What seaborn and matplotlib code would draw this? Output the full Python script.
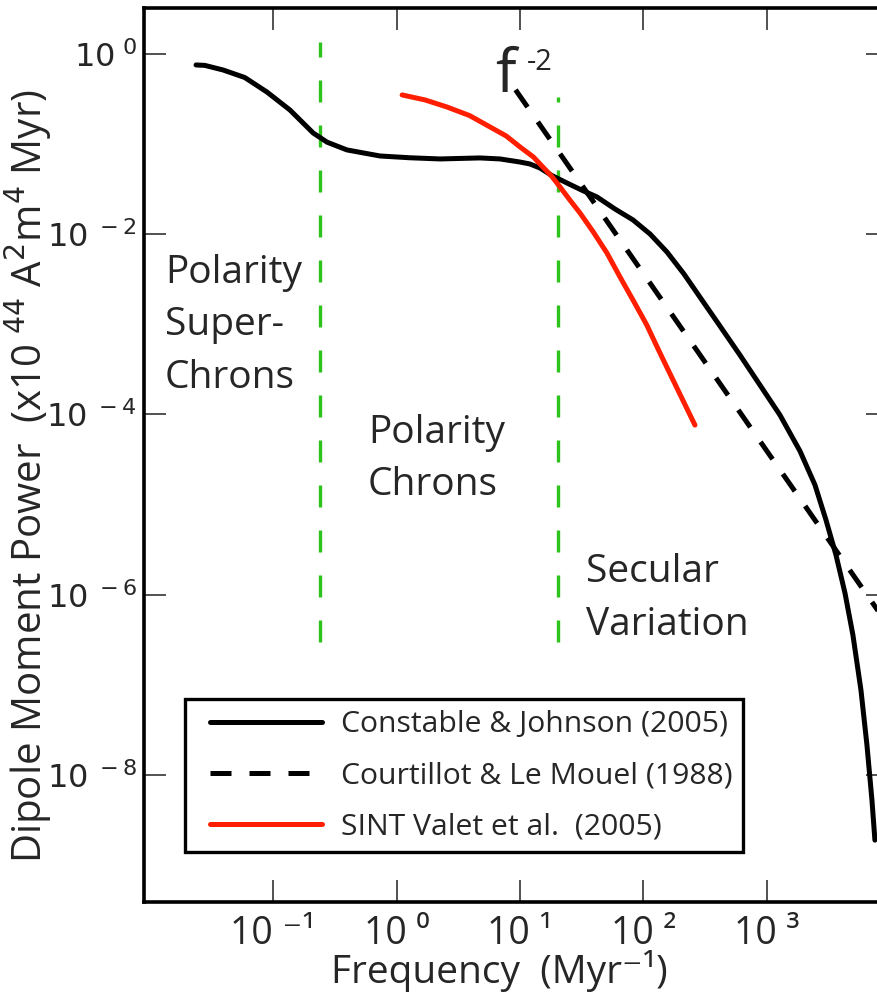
import matplotlib
matplotlib.use("Agg")
import matplotlib.pyplot as plt
import seaborn as sns
import pandas as pd
from matplotlib.lines import Line2D
from matplotlib.legend_handler import HandlerLine2D

# ---------------- data ----------------
cj_freq = [0.0238, 0.0280, 0.0394, 0.0590, 0.0893, 0.137, 0.211, 0.274, 0.397, 0.735,
           1.28, 2.25, 4.74, 6.89, 10.0, 12.0, 14.5, 18.1, 24.0, 31.5, 42.0, 58.9,
           82.2, 113, 155, 213, 286, 416, 604, 877, 1274, 1849, 2447, 3006, 3622,
           4284, 4966, 5768, 6450, 7080, 7482]
cj_power = [0.755, 0.747, 0.664, 0.548, 0.378, 0.239, 0.133, 0.105, 0.0861, 0.0738,
            0.0705, 0.0684, 0.0702, 0.0684, 0.0632, 0.0602, 0.0543, 0.0448, 0.0370,
            0.0309, 0.0259, 0.0190, 0.0144, 1.005e-2, 6.34e-3, 3.61e-3, 2.01e-3,
            9.58e-4, 4.56e-4, 2.12e-4, 9.84e-5, 3.93e-5, 1.65e-5, 6.73e-6, 2.75e-6,
            1.04e-6, 3.56e-7, 8.73e-8, 2.14e-8, 5.25e-9, 1.89e-9]

cl_freq = [9.2, 10000.0]
cl_power = [0.40, 4.2e-7]

sv_freq = [1.11, 1.70, 2.56, 3.91, 5.71, 7.73, 10.0, 12.8, 15.3, 18.0, 21.1, 25.3,
           30.6, 39.0, 50.6, 64.0, 82.2, 106, 136, 187, 261]
sv_power = [0.351, 0.309, 0.258, 0.207, 0.155, 0.123, 0.0929, 0.0722, 0.0557, 0.0441,
            0.0334, 0.0240, 0.0172, 0.0107, 6.18e-3, 3.42e-3, 1.86e-3, 9.9e-4,
            4.80e-4, 1.95e-4, 7.62e-5]

boundary_freq = [0.24, 20.3]
boundary_top = [1.36, 0.333]
boundary_bottom = [3.0e-7, 3.0e-7]

series_labels = ["Constable & Johnson (2005)", "Courtillot & Le Mouel (1988)",
                 "SINT Valet et al.  (2005)"]
region_labels = ["Polarity\nSuper-\nChrons", "Polarity\nChrons", "Secular\nVariation"]

x_ticks = [1e-1, 1e0, 1e1, 1e2, 1e3]
x_tick_labels = ["10 \u207b\u00b9", "10 \u2070", "10 \u00b9", "10 \u00b2", "10 \u00b3"]
y_ticks = [1e0, 1e-2, 1e-4, 1e-6, 1e-8]
y_tick_labels = [r"$\mathregular{10^{\ 0}}$", r"$\mathregular{10^{\ -2}}$",
                 r"$\mathregular{10^{\ -4}}$", r"$\mathregular{10^{\ -6}}$",
                 r"$\mathregular{10^{\ -8}}$"]

# ---------------- style ----------------
sns.set_style("white")
plt.rcParams["font.family"] = ["Open Sans", "DejaVu Sans"]
NARROW = ["Liberation Sans Narrow", "Open Sans", "DejaVu Sans"]

W, H = 878, 998
fig = plt.figure(figsize=(W / 100, H / 100), dpi=100)
L, R, T, B = 144, 888, 8, 902
ax = fig.add_axes([L / W, 1 - B / H, (R - L) / W, (B - T) / H])
ax.set_xscale("log")
ax.set_yscale("log")

LW = 3.6
RED = "#ff1e00"
cj = pd.DataFrame({"f": cj_freq, "p": cj_power})
cl = pd.DataFrame({"f": cl_freq, "p": cl_power})
sv = pd.DataFrame({"f": sv_freq, "p": sv_power})

green = "#2ec21c"
for f, top, bot in zip(boundary_freq, boundary_top, boundary_bottom):
    # drawn bottom -> top so the dash pattern starts at the lower end
    ax.plot([f, f], [bot, top], color=green, lw=2.4, linestyle=(0, (6.6, 6.9)), zorder=1)

sns.lineplot(data=cl, x="f", y="p", ax=ax, color="black", lw=LW, estimator=None,
             sort=False, linestyle=(0, (4.2, 3.6)), zorder=2)
sns.lineplot(data=cj, x="f", y="p", ax=ax, color="black", lw=LW, estimator=None,
             sort=False, zorder=3, solid_capstyle="round", solid_joinstyle="round")
sns.lineplot(data=sv, x="f", y="p", ax=ax, color=RED, lw=LW, estimator=None,
             sort=False, zorder=4, solid_capstyle="round", solid_joinstyle="round")

ax.set_xlim(10 ** -2.045, 10 ** 3.98)
ax.set_ylim(10 ** -9.41, 10 ** 0.51)

ax.set_xticks(x_ticks)
ax.set_xticklabels(x_tick_labels, family=NARROW, fontsize=27)
ax.set_yticks(y_ticks)
ax.set_yticklabels(y_tick_labels, family=["DejaVu Sans"], fontsize=23)
ax.minorticks_off()
ax.tick_params(axis="both", which="major", direction="in", length=16, width=1.1,
               color="#222222", top=True, right=True, bottom=True, left=True)
ax.tick_params(axis="x", pad=9)
ax.tick_params(axis="y", pad=5)

for s in ax.spines.values():
    s.set_linewidth(2.6)
    s.set_color("black")
    s.set_visible(True)

ax.set_xlabel("Frequency  (Myr\u207b\u00b9)", family=NARROW, fontsize=28)
ax.xaxis.set_label_coords(0.478, -0.054)
ax.xaxis.label.set_verticalalignment("top")
ax.set_ylabel(r"Dipole Moment Power  (x10$^{\ 44}$ A$^{2}$m$^{4}$ Myr)", family=NARROW,
              fontsize=29)
ax.yaxis.set_label_coords(-0.121, 0.476)

# region annotations (y = baseline of last line)
ax.text(0.028, 0.575, region_labels[0], transform=ax.transAxes, fontsize=28,
        va="baseline", ha="left", linespacing=1.5)
ax.text(0.301, 0.455, region_labels[1], transform=ax.transAxes, fontsize=28,
        va="baseline", ha="left", linespacing=1.5)
ax.text(0.594, 0.2987, region_labels[2], transform=ax.transAxes, fontsize=28,
        va="baseline", ha="left", linespacing=1.5)
ax.text(0.472, 0.906, "f", transform=ax.transAxes, fontsize=44, va="baseline", ha="left")
ax.text(0.514, 0.931, "-2", transform=ax.transAxes, fontsize=21, va="baseline", ha="left")

# legend
handles = [Line2D([], [], color="black", lw=LW),
           Line2D([], [], color="black", lw=LW, linestyle=(0, (4.2, 3.6))),
           Line2D([], [], color=RED, lw=LW)]
leg = ax.legend(handles, series_labels, loc="lower left",
                bbox_to_anchor=(0.0551, 0.0559), borderaxespad=0, fontsize=21.7,
                frameon=True, fancybox=False, framealpha=1, edgecolor="black",
                handlelength=4.2, handletextpad=0.6, labelspacing=0.73,
                borderpad=0.36,
                handler_map={Line2D: HandlerLine2D(xpad=0.465)})
leg.get_frame().set_linewidth(2.4)

fig.savefig("out.png", dpi=100)
